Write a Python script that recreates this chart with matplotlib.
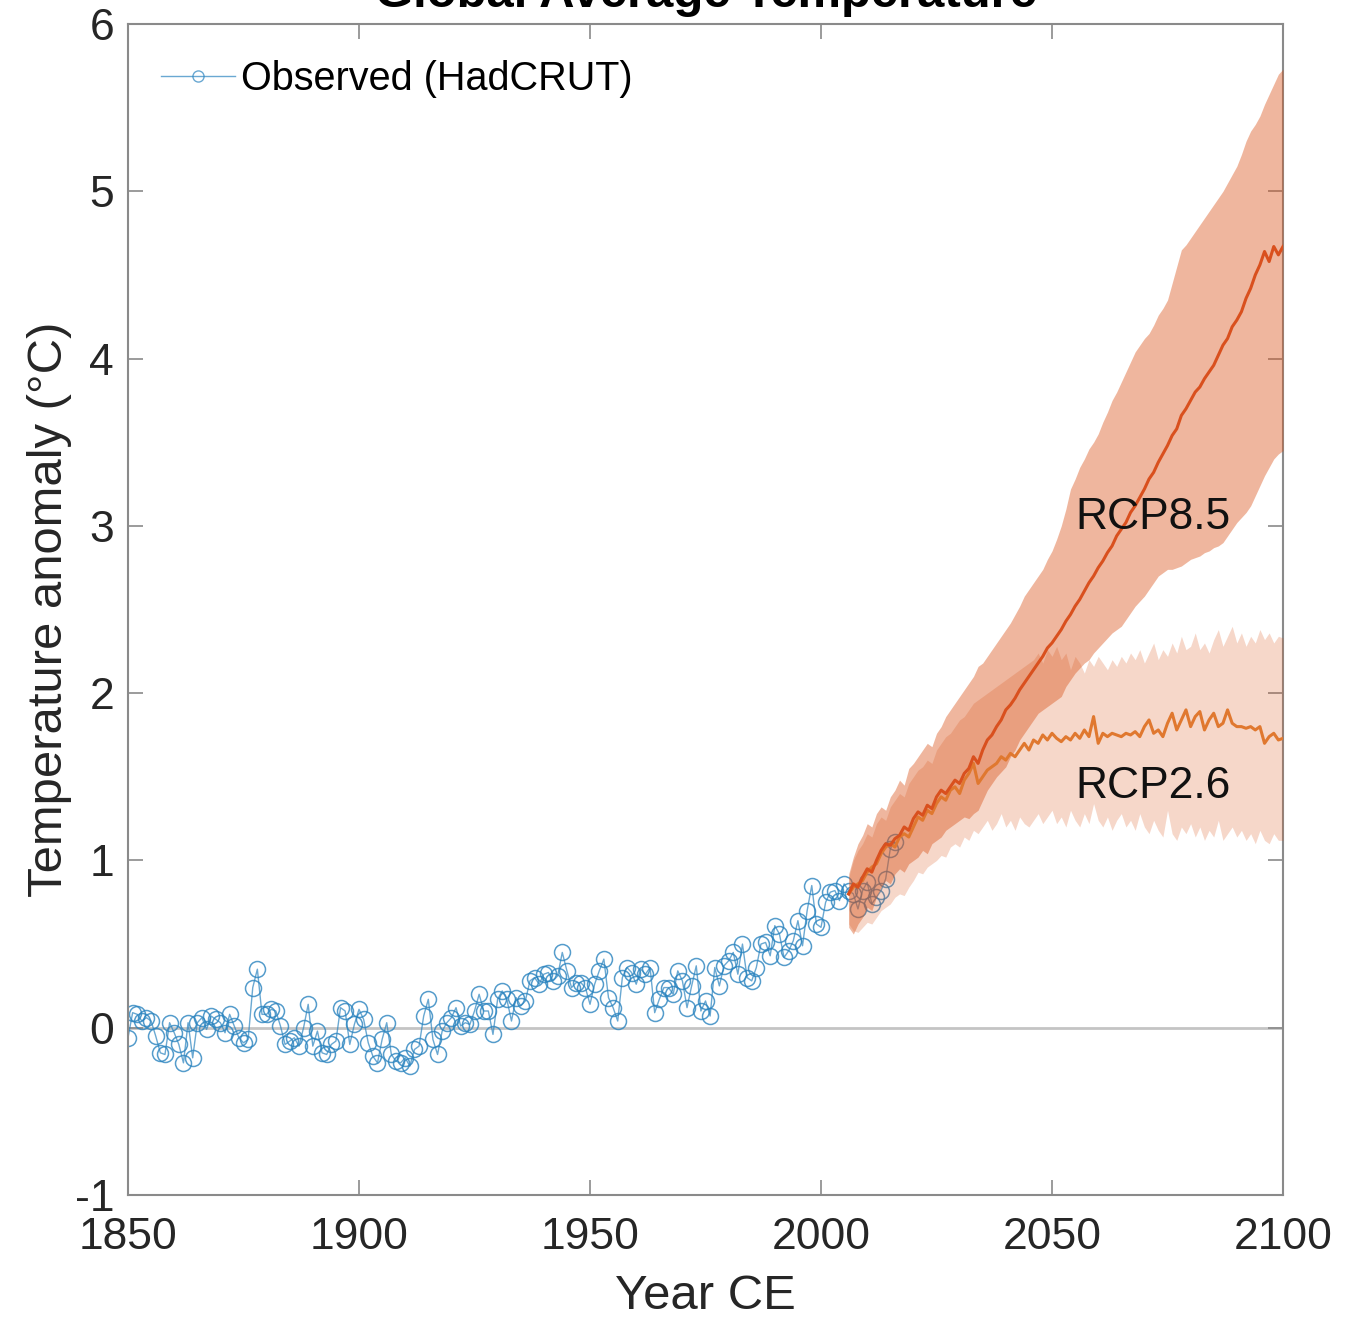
import numpy as np
import matplotlib
matplotlib.use('Agg')
import matplotlib.pyplot as plt
from matplotlib import font_manager
from matplotlib.lines import Line2D

# observed annual anomalies (HadCRUT), 1850-2016
obs_years = np.arange(1850, 2017)
obs_temp = [
    -0.06, 0.09, 0.08, 0.04, 0.06, 0.04, -0.05, -0.15, -0.16, 0.03,
    -0.03, -0.10, -0.21, 0.03, -0.18, 0.03, 0.06, -0.01, 0.07, 0.05,
    0.03, -0.03, 0.08, 0.01, -0.06, -0.09, -0.07, 0.24, 0.35, 0.08,
    0.08, 0.11, 0.10, 0.01, -0.10, -0.08, -0.06, -0.11, 0.00, 0.14,
    -0.11, -0.02, -0.15, -0.16, -0.10, -0.08, 0.12, 0.10, -0.10, 0.02,
    0.11, 0.05, -0.09, -0.17, -0.21, -0.07, 0.03, -0.16, -0.20, -0.21,
    -0.18, -0.23, -0.13, -0.11, 0.07, 0.17, -0.07, -0.16, -0.02, 0.03,
    0.06, 0.12, 0.01, 0.03, 0.02, 0.10, 0.20, 0.10, 0.10, -0.04,
    0.17, 0.22, 0.17, 0.04, 0.18, 0.13, 0.16, 0.28, 0.30, 0.26,
    0.32, 0.33, 0.28, 0.31, 0.45, 0.34, 0.24, 0.27, 0.27, 0.24,
    0.14, 0.26, 0.34, 0.41, 0.18, 0.12, 0.04, 0.30, 0.36, 0.33,
    0.26, 0.35, 0.32, 0.36, 0.09, 0.17, 0.24, 0.24, 0.20, 0.34,
    0.28, 0.12, 0.25, 0.37, 0.10, 0.16, 0.07, 0.36, 0.25, 0.37,
    0.40, 0.45, 0.32, 0.50, 0.30, 0.28, 0.36, 0.50, 0.51, 0.43,
    0.61, 0.56, 0.42, 0.46, 0.52, 0.64, 0.49, 0.70, 0.85, 0.62,
    0.60, 0.75, 0.81, 0.82, 0.76, 0.86, 0.82, 0.80, 0.71, 0.82,
    0.87, 0.74, 0.78, 0.82, 0.89, 1.07, 1.11,
]

# model projections, 2006-2100
proj_years = np.arange(2006, 2101)

rcp85_mid = [
    0.80, 0.86, 0.84, 0.90, 0.95, 0.93, 1.00, 1.06, 1.10, 1.09,
    1.13, 1.15, 1.20, 1.18, 1.25, 1.29, 1.27, 1.33, 1.31, 1.38,
    1.42, 1.40, 1.44, 1.48, 1.46, 1.52, 1.55, 1.62, 1.58, 1.66,
    1.72, 1.75, 1.80, 1.84, 1.90, 1.93, 1.97, 2.02, 2.06, 2.10,
    2.14, 2.18, 2.22, 2.27, 2.30, 2.34, 2.38, 2.43, 2.47, 2.52,
    2.56, 2.61, 2.66, 2.70, 2.75, 2.79, 2.84, 2.88, 2.94, 2.98,
    3.02, 3.08, 3.12, 3.17, 3.22, 3.28, 3.32, 3.38, 3.43, 3.48,
    3.54, 3.58, 3.66, 3.70, 3.75, 3.80, 3.83, 3.88, 3.92, 3.96,
    4.02, 4.08, 4.12, 4.19, 4.23, 4.28, 4.36, 4.42, 4.50, 4.56,
    4.64, 4.58, 4.67, 4.62, 4.67,
]
rcp85_hi = [
    0.92, 1.02, 1.10, 1.15, 1.22, 1.20, 1.28, 1.32, 1.30, 1.38,
    1.42, 1.48, 1.45, 1.55, 1.58, 1.62, 1.66, 1.70, 1.68, 1.76,
    1.80, 1.86, 1.90, 1.94, 1.98, 2.02, 2.06, 2.10, 2.16, 2.18,
    2.22, 2.26, 2.30, 2.34, 2.38, 2.42, 2.47, 2.52, 2.58, 2.62,
    2.66, 2.70, 2.74, 2.80, 2.85, 2.92, 3.00, 3.10, 3.22, 3.28,
    3.35, 3.40, 3.46, 3.50, 3.55, 3.62, 3.68, 3.75, 3.80, 3.86,
    3.92, 3.98, 4.04, 4.08, 4.12, 4.15, 4.20, 4.26, 4.30, 4.35,
    4.45, 4.55, 4.65, 4.68, 4.72, 4.76, 4.80, 4.84, 4.88, 4.92,
    4.96, 5.00, 5.05, 5.10, 5.15, 5.22, 5.30, 5.36, 5.40, 5.45,
    5.52, 5.58, 5.64, 5.70, 5.73,
]
rcp85_lo = [
    0.60, 0.56, 0.62, 0.66, 0.72, 0.70, 0.78, 0.84, 0.88, 0.86,
    0.92, 0.95, 0.93, 0.98, 1.00, 1.02, 1.06, 1.04, 1.10, 1.12,
    1.14, 1.18, 1.20, 1.22, 1.24, 1.26, 1.25, 1.28, 1.30, 1.36,
    1.42, 1.46, 1.50, 1.53, 1.56, 1.62, 1.66, 1.72, 1.76, 1.80,
    1.84, 1.88, 1.90, 1.92, 1.94, 1.96, 1.98, 2.04, 2.08, 2.12,
    2.15, 2.18, 2.20, 2.24, 2.27, 2.30, 2.33, 2.36, 2.38, 2.40,
    2.44, 2.48, 2.52, 2.55, 2.58, 2.62, 2.66, 2.70, 2.72, 2.74,
    2.74, 2.75, 2.76, 2.78, 2.80, 2.81, 2.82, 2.84, 2.85, 2.87,
    2.88, 2.90, 2.94, 2.98, 3.02, 3.05, 3.08, 3.12, 3.18, 3.24,
    3.30, 3.35, 3.40, 3.43, 3.45,
]

rcp26_mid = [
    0.80, 0.84, 0.86, 0.88, 0.93, 0.96, 0.98, 1.04, 1.08, 1.10,
    1.08, 1.14, 1.16, 1.14, 1.20, 1.26, 1.24, 1.30, 1.28, 1.34,
    1.38, 1.36, 1.42, 1.44, 1.40, 1.48, 1.52, 1.58, 1.46, 1.50,
    1.54, 1.56, 1.58, 1.62, 1.60, 1.64, 1.62, 1.66, 1.70, 1.66,
    1.72, 1.70, 1.75, 1.72, 1.76, 1.73, 1.71, 1.74, 1.72, 1.76,
    1.73, 1.78, 1.74, 1.86, 1.70, 1.76, 1.74, 1.76, 1.75, 1.74,
    1.76, 1.75, 1.77, 1.74, 1.80, 1.84, 1.76, 1.78, 1.74, 1.82,
    1.88, 1.78, 1.84, 1.90, 1.80, 1.86, 1.89, 1.78, 1.84, 1.88,
    1.80, 1.82, 1.90, 1.82, 1.80, 1.80, 1.79, 1.80, 1.78, 1.80,
    1.70, 1.74, 1.76, 1.72, 1.73,
]
rcp26_hi = [
    0.90, 1.00, 1.06, 1.10, 1.16, 1.14, 1.22, 1.26, 1.24, 1.32,
    1.36, 1.40, 1.38, 1.46, 1.50, 1.54, 1.56, 1.60, 1.58, 1.66,
    1.70, 1.74, 1.76, 1.80, 1.84, 1.86, 1.90, 1.94, 1.96, 1.98,
    2.00, 2.02, 2.04, 2.06, 2.08, 2.10, 2.12, 2.14, 2.16, 2.18,
    2.20, 2.24, 2.18, 2.26, 2.22, 2.28, 2.20, 2.24, 2.14, 2.22,
    2.18, 2.12, 2.20, 2.16, 2.22, 2.18, 2.14, 2.20, 2.16, 2.22,
    2.18, 2.24, 2.20, 2.26, 2.18, 2.24, 2.30, 2.20, 2.26, 2.22,
    2.30, 2.24, 2.34, 2.26, 2.28, 2.36, 2.26, 2.30, 2.24, 2.32,
    2.38, 2.28, 2.34, 2.40, 2.30, 2.36, 2.28, 2.34, 2.30, 2.38,
    2.32, 2.36, 2.30, 2.34, 2.33,
]
rcp26_lo = [
    0.62, 0.58, 0.57, 0.60, 0.63, 0.62, 0.66, 0.70, 0.72, 0.74,
    0.78, 0.80, 0.79, 0.84, 0.88, 0.93, 0.92, 0.96, 0.98, 1.00,
    1.03, 1.02, 1.08, 1.10, 1.08, 1.14, 1.12, 1.18, 1.16, 1.20,
    1.24, 1.18, 1.22, 1.28, 1.20, 1.24, 1.18, 1.26, 1.22, 1.20,
    1.24, 1.28, 1.22, 1.26, 1.30, 1.22, 1.26, 1.20, 1.30, 1.24,
    1.20, 1.28, 1.22, 1.34, 1.24, 1.20, 1.26, 1.18, 1.24, 1.28,
    1.20, 1.24, 1.18, 1.28, 1.20, 1.16, 1.24, 1.18, 1.14, 1.30,
    1.16, 1.12, 1.20, 1.16, 1.22, 1.14, 1.20, 1.12, 1.18, 1.14,
    1.24, 1.12, 1.16, 1.20, 1.14, 1.18, 1.12, 1.16, 1.10, 1.18,
    1.12, 1.10, 1.16, 1.12, 1.12,
]

x_ticks = [1850, 1900, 1950, 2000, 2050, 2100]
y_ticks = [-1, 0, 1, 2, 3, 4, 5, 6]

# pick a narrow sans if there is one, the reference text is condensed
names = {f.name for f in font_manager.fontManager.ttflist}
narrow = 'Liberation Sans Narrow' in names
font = 'Liberation Sans Narrow' if narrow else 'Liberation Sans'
scale = 1.0 if narrow else 0.84
plt.rcParams['font.family'] = [font, 'DejaVu Sans']
plt.rcParams['axes.unicode_minus'] = False

orange = '#D95319'
blue = '#2B84BF'
axis_grey = '#8A8A8A'

fig = plt.figure(figsize=(13.46, 13.19), dpi=100)
ax = fig.add_axes([0.0951, 0.0940, 0.8581, 0.8878])

ax.axhline(0, color='#C4C4C4', lw=2, zorder=1)

ax.plot(obs_years, obs_temp, color=blue, lw=1, alpha=0.7, zorder=2)
ax.plot(obs_years, obs_temp, ls='none', marker='o', ms=11.5, mfc='none',
        mec=blue, mew=1.1, alpha=0.8, zorder=2)

ax.fill_between(proj_years, rcp26_lo, rcp26_hi, color=orange, alpha=0.23,
                lw=0, zorder=3)
ax.fill_between(proj_years, rcp85_lo, rcp85_hi, color=orange, alpha=0.42,
                lw=0, zorder=3)
ax.plot(proj_years, rcp26_mid, color='#E0782F', lw=2.2, zorder=4)
ax.plot(proj_years, rcp85_mid, color='#D9501E', lw=2.2, zorder=4)

ax.text(2055, 3.05, 'RCP8.5', fontsize=38 * scale, color='#111111',
        ha='left', va='center', zorder=5)
ax.text(2055, 1.44, 'RCP2.6', fontsize=38 * scale, color='#111111',
        ha='left', va='center', zorder=5)

ax.set_xlim(1850, 2100)
ax.set_ylim(-1, 6)
ax.set_xticks(x_ticks)
ax.set_yticks(y_ticks)
ax.tick_params(direction='in', length=11, width=1.2, color=axis_grey,
               labelsize=38 * scale, labelcolor='#262626',
               top=True, right=True)
ax.tick_params(axis='x', pad=16)
ax.tick_params(axis='y', pad=10)
for s in ax.spines.values():
    s.set_color(axis_grey)
    s.set_linewidth(1.5)

ax.set_xlabel('Year CE', fontsize=42 * scale, color='#262626', labelpad=11)
ax.set_ylabel('Temperature anomaly (°C)', fontsize=42 * scale,
              color='#262626', labelpad=2)
ax.set_title('Global Average Temperature', fontsize=42 * scale,
             fontweight='bold', pad=12)

handle = Line2D([], [], color=blue, lw=1, alpha=0.7, marker='o', ms=8,
                mfc='none', mec=blue)
ax.legend([handle], ['Observed (HadCRUT)'], loc='upper left',
          bbox_to_anchor=(0.029, 0.969), frameon=False, borderpad=0,
          borderaxespad=0, handlelength=1.85, handletextpad=0.15,
          fontsize=34 * scale)

fig.savefig('out.png', dpi=100)
